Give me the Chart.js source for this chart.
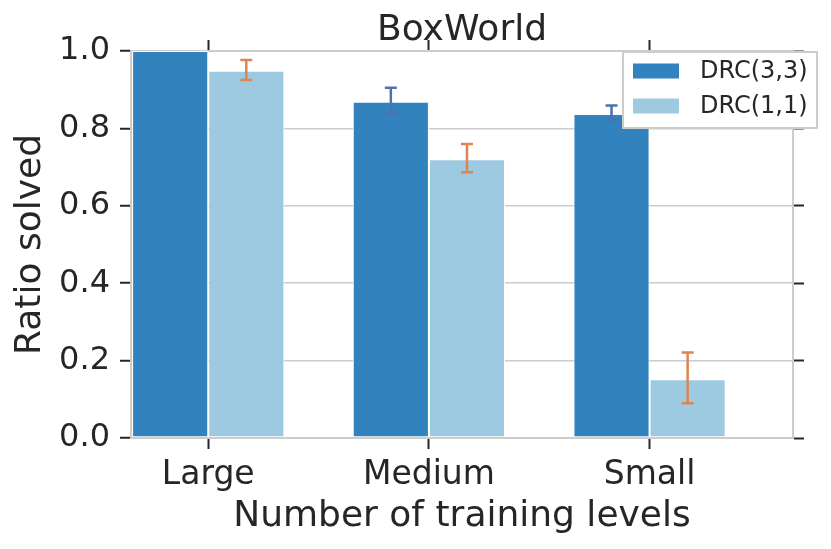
<!DOCTYPE html>
<html>
<head>
<meta charset="utf-8">
<script src="https://cdn.jsdelivr.net/npm/chart.js@4.4.0/dist/chart.umd.min.js"></script>
<style>
  html, body { margin: 0; padding: 0; background: #fff; }
  #wrap { width: 831px; height: 549px; }
</style>
</head>
<body>
<div id="wrap"><canvas id="chart" width="831" height="549"></canvas></div>
<script>
// categories on the x axis
const categories = ["Large", "Medium", "Small"];

// DRC(3,3) bar heights and error bar ends
const drc33 = [1.0, 0.869, 0.837];
const drc33Low = [1.0, 0.839, 0.822];
const drc33High = [1.0, 0.905, 0.859];

// DRC(1,1) bar heights and error bar ends
const drc11 = [0.949, 0.72, 0.152];
const drc11Low = [0.925, 0.687, 0.09];
const drc11High = [0.977, 0.76, 0.221];

// y tick values
const yTicks = [0.0, 0.2, 0.4, 0.6, 0.8, 1.0];

const FONT = "'DejaVu Sans', sans-serif";
const TEXT = "#262626";
const FRAME = "#cccccc";

// put the ticks exactly on the categories / y values
function categoryTicks(axis) {
  axis.ticks = categories.map((c, i) => ({ value: i }));
}
function valueTicks(axis) {
  axis.ticks = yTicks.map(v => ({ value: v }));
}

// error bars drawn on top of each bar
const errorBars = {
  id: "errorBars",
  afterDatasetsDraw(chart) {
    const ctx = chart.ctx;
    const yScale = chart.scales.y;
    chart.data.datasets.forEach((ds, i) => {
      const meta = chart.getDatasetMeta(i);
      meta.data.forEach((bar, j) => {
        const lo = ds.errLow[j], hi = ds.errHigh[j];
        if (lo === hi) return;
        const y1 = yScale.getPixelForValue(lo);
        const y2 = yScale.getPixelForValue(hi);
        ctx.save();
        ctx.strokeStyle = ds.errColor;
        ctx.lineWidth = 2.5;
        ctx.beginPath();
        ctx.moveTo(bar.x, y1);
        ctx.lineTo(bar.x, y2);
        ctx.moveTo(bar.x - 6, y1);
        ctx.lineTo(bar.x + 6, y1);
        ctx.moveTo(bar.x - 6, y2);
        ctx.lineTo(bar.x + 6, y2);
        ctx.stroke();
        ctx.restore();
      });
    });
  }
};

// legend box in the top right corner, over the frame
const boxLegend = {
  id: "boxLegend",
  afterDraw(chart) {
    const ctx = chart.ctx;
    const area = chart.chartArea;
    const left = area.right - 170, top = area.top + 1;
    const w = 194, h = 76;
    ctx.save();
    ctx.fillStyle = "#ffffff";
    ctx.fillRect(left, top, w, h);
    ctx.strokeStyle = FRAME;
    ctx.lineWidth = 2;
    ctx.strokeRect(left, top, w, h);
    ctx.font = "24px " + FONT;
    ctx.textBaseline = "middle";
    chart.data.datasets.forEach((ds, i) => {
      const cy = top + 19 + i * 35;
      ctx.fillStyle = ds.backgroundColor;
      ctx.fillRect(left + 10, cy - 7.5, 46, 15);
      ctx.fillStyle = TEXT;
      ctx.fillText(ds.label, left + 77, cy + 1);
    });
    ctx.restore();
  }
};

const tickGrid = {
  offset: false,
  drawOnChartArea: false,
  drawTicks: true,
  tickLength: 11,
  tickWidth: 2,
  tickColor: TEXT
};

new Chart(document.getElementById("chart"), {
  type: "bar",
  data: {
    datasets: [
      {
        label: "DRC(3,3)",
        data: drc33.map((v, i) => ({ x: i, y: v })),
        errLow: drc33Low,
        errHigh: drc33High,
        errColor: "#4c72b0",
        backgroundColor: "#3182bd",
        borderColor: "#ffffff",
        borderWidth: 1,
        borderSkipped: false
      },
      {
        label: "DRC(1,1)",
        data: drc11.map((v, i) => ({ x: i, y: v })),
        errLow: drc11Low,
        errHigh: drc11High,
        errColor: "#dd8452",
        backgroundColor: "#9ecae1",
        borderColor: "#ffffff",
        borderWidth: 1,
        borderSkipped: false
      }
    ]
  },
  options: {
    responsive: false,
    animation: false,
    devicePixelRatio: 1,
    categoryPercentage: 0.69,
    barPercentage: 1.0,
    layout: { padding: 0 },
    plugins: {
      legend: { display: false },
      tooltip: { enabled: false }
    },
    scales: {
      x: {
        type: "linear",
        position: "bottom",
        offset: false,
        min: -0.35,
        max: 2.65,
        afterBuildTicks: categoryTicks,
        afterFit(axis) { axis.height = 111; },
        grid: tickGrid,
        border: { display: true, color: FRAME, width: 2 },
        ticks: {
          color: TEXT,
          font: { family: FONT, size: 33 },
          padding: 7,
          maxRotation: 0,
          callback: v => categories[v]
        },
        title: {
          display: true,
          text: "Number of training levels",
          color: TEXT,
          font: { family: FONT, size: 36 },
          padding: { top: 0, bottom: 11 }
        }
      },
      x2: {
        type: "linear",
        position: "top",
        offset: false,
        min: -0.35,
        max: 2.65,
        afterBuildTicks: categoryTicks,
        afterFit(axis) { axis.height = 51; },
        grid: tickGrid,
        border: { display: true, color: FRAME, width: 2 },
        ticks: { display: false },
        title: {
          display: true,
          text: "BoxWorld",
          color: TEXT,
          font: { family: FONT, size: 36 },
          padding: { top: 9, bottom: 0 }
        }
      },
      y: {
        type: "linear",
        position: "left",
        min: 0,
        max: 1,
        afterBuildTicks: valueTicks,
        afterFit(axis) { axis.width = 131; },
        grid: {
          color: FRAME,
          lineWidth: 1.5,
          drawTicks: true,
          tickLength: 11,
          tickWidth: 2,
          tickColor: TEXT
        },
        border: { display: true, color: FRAME, width: 2 },
        ticks: {
          color: TEXT,
          font: { family: FONT, size: 32 },
          padding: 10,
          callback: v => v.toFixed(1)
        },
        title: {
          display: true,
          text: "Ratio solved",
          color: TEXT,
          font: { family: FONT, size: 36 },
          padding: { top: 9, bottom: 0 }
        }
      },
      y2: {
        type: "linear",
        position: "right",
        min: 0,
        max: 1,
        afterBuildTicks: valueTicks,
        afterFit(axis) { axis.width = 38; },
        grid: tickGrid,
        border: { display: true, color: FRAME, width: 2 },
        ticks: { display: false }
      }
    }
  },
  plugins: [errorBars, boxLegend]
});
</script>
</body>
</html>
